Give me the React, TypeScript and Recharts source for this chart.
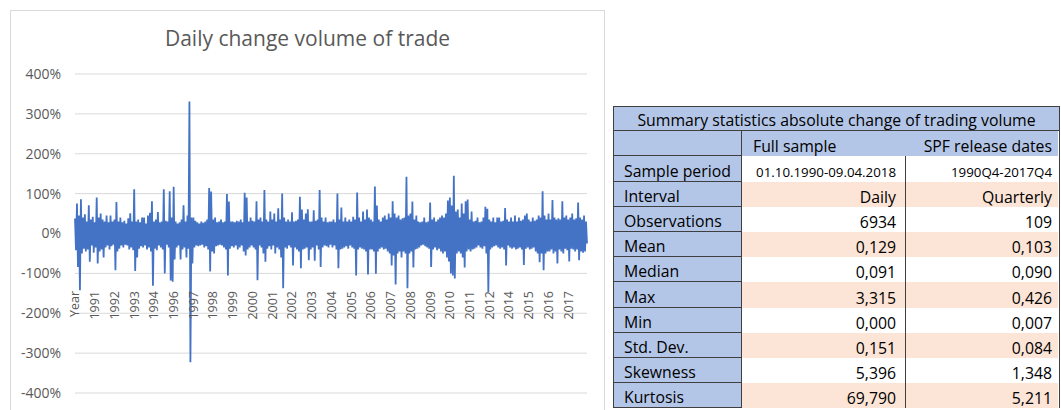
import { LineChart, Line, XAxis, YAxis, CartesianGrid } from 'recharts';

const dailyChangePct = [
  38, -42, 75, -84, 45, -142, 86, -50, 40, -38, 48, -45, 30, -40, 71, -71, 35, -30, 42, -48,
  28, -35, 90, -75, 40, -45, 50, -40, 35, -60, 30, -35, 45, -30, 28, -40, 45, -32, 30, -28,
  35, -92, 79, -45, 30, -38, 40, -30, 28, -35, 32, -28, 25, -30, 38, -40, 51, -35, 30, -42,
  111, -94, 30, -60, 35, -38, 28, -32, 40, -35, 40, -30, 25, -40, 45, -35, 52, -45, 81, -131,
  30, -38, 35, -42, 54, -30, 28, -35, 30, -40, 111, -100, 32, -28, 30, -35, 106, -118, 40, -121,
  117, -65, 30, -35, 25, -30, 28, -65, 35, -40, 71, -35, 30, -60, 45, -38, 331, -323, 40, -75,
  40, -35, 32, -30, 28, -32, 25, -30, 30, -28, 27, -35, 30, -32, 35, -40, 114, -95, 105, -45,
  35, -50, 40, -32, 28, -30, 30, -28, 35, -30, 28, -35, 30, -40, 99, -105, 80, -38, 30, -32,
  30, -35, 28, -30, 32, -40, 30, -35, 35, -30, 28, -45, 102, -55, 90, -40, 30, -35, 40, -30,
  32, -35, 30, -40, 81, -117, 35, -30, 40, -35, 30, -50, 109, -71, 35, -38, 30, -32, 55, -40,
  35, -30, 50, -50, 30, -35, 63, -40, 35, -60, 100, -137, 40, -35, 30, -38, 35, -30, 30, -35,
  53, -80, 30, -35, 32, -40, 35, -45, 92, -87, 60, -40, 35, -38, 50, -35, 61, -67, 30, -40,
  30, -35, 58, -68, 32, -30, 35, -40, 109, -84, 40, -35, 30, -30, 40, -32, 28, -35, 30, -28,
  30, -35, 35, -30, 28, -40, 100, -87, 35, -40, 65, -38, 30, -35, 40, -32, 30, -38, 35, -30,
  30, -35, 42, -38, 35, -105, 103, -40, 40, -35, 30, -38, 55, -40, 35, -45, 60, -103, 40, -40,
  35, -40, 30, -45, 118, -101, 70, -45, 35, -38, 30, -35, 40, -40, 45, -38, 35, -45, 50, -50,
  40, -80, 81, -55, 50, -128, 40, -50, 45, -45, 35, -60, 38, -45, 40, -50, 142, -137, 45, -50,
  50, -45, 80, -85, 35, -40, 45, -38, 30, -35, 28, -30, 30, -28, 40, -32, 28, -35, 30, -38,
  78, -84, 35, -40, 40, -35, 30, -42, 35, -38, 40, -45, 45, -50, 40, -45, 50, -60, 83, -70,
  90, -100, 70, -105, 145, -113, 55, -50, 60, -45, 40, -50, 75, -60, 50, -85, 81, -45, 85, -40,
  35, -45, 55, -40, 30, -38, 32, -35, 40, -30, 28, -35, 30, -38, 40, -32, 67, -50, 62, -147,
  35, -40, 30, -35, 40, -32, 28, -30, 40, -35, 40, -38, 30, -35, 32, -40, 64, -80, 35, -30,
  30, -35, 40, -38, 30, -35, 45, -40, 30, -38, 40, -35, 32, -40, 35, -79, 45, -38, 50, -35,
  35, -40, 30, -38, 40, -35, 32, -45, 35, -50, 45, -72, 40, -50, 106, -92, 45, -50, 35, -45,
  50, -45, 35, -40, 84, -50, 40, -45, 35, -75, 38, -40, 35, -45, 81, -50, 40, -38, 45, -42,
  35, -70, 40, -38, 50, -40, 35, -45, 38, -40, 78, -67, 40, -45, 35, -48, 45, -45, 30, -25,
];

const yearLabels = [
  'Year', '1991', '1992', '1993', '1994', '1996', '1997', '1998', '1999', '2000', '2001', '2002', '2003',
  '2004', '2005', '2006', '2007', '2008', '2009', '2010', '2011', '2012', '2014', '2015', '2016', '2017',
];
const pointsPerLabel = 20;
const yTicks = [-400, -300, -200, -100, 0, 100, 200, 300, 400];

const statNames = ['Sample period', 'Interval', 'Observations', 'Mean', 'Median', 'Max', 'Min', 'Std. Dev.', 'Skewness', 'Kurtosis'];
const fullSample = ['01.10.1990-09.04.2018', 'Daily', '6934', '0,129', '0,091', '3,315', '0,000', '0,151', '5,396', '69,790'];
const spfDates = ['1990Q4-2017Q4', 'Quarterly', '109', '0,103', '0,090', '0,426', '0,007', '0,084', '1,348', '5,211'];

const FONT = '"Open Sans", sans-serif';
const GREY = '#595959';
const BLUE = '#B4C6E7';
const PEACH = '#FCE4D6';
const DARK = '#3F3F3F';
const ROW_H = 25.2;

const chartData = dailyChangePct.map((v, i) => ({ i, v }));

const renderYearTick = (props: any) => {
  const { x, y, payload } = props;
  const label = yearLabels[Math.round(Number(payload.value) / pointsPerLabel)];
  if (!label) return <g />;
  const ty = y - 102;
  return (
    <text x={x} y={ty} dy="0.35em" transform={`rotate(-90, ${x}, ${ty})`} textAnchor="end"
      fill={GREY} fontSize={12.5} fontFamily={FONT}>
      {label}
    </text>
  );
};

function StatsTable() {
  const cell = (extra: React.CSSProperties): React.CSSProperties => ({
    boxSizing: 'border-box', height: ROW_H, display: 'flex', alignItems: 'flex-end',
    lineHeight: '20px', whiteSpace: 'nowrap', ...extra,
  });
  return (
    <div style={{ position: 'absolute', left: 613, top: 106, width: 446, fontFamily: FONT, fontSize: 15.8, color: '#000',
      borderRight: `1px solid ${DARK}` }}>
      <div style={cell({ background: BLUE, border: `1px solid ${DARK}`, borderRight: 'none', justifyContent: 'center' })}>
        Summary statistics absolute change of trading volume
      </div>
      <div style={{ display: 'flex' }}>
        <div style={cell({ width: 129, background: BLUE, borderLeft: `1px solid ${DARK}`, borderRight: `1px solid ${DARK}`, borderBottom: `1px solid ${DARK}` })} />
        <div style={cell({ width: 164, background: BLUE, paddingLeft: 11 })}>Full sample</div>
        <div style={cell({ width: 152, background: BLUE, justifyContent: 'flex-end', paddingRight: 6 })}>SPF release dates</div>
      </div>
      {statNames.map((name, r) => {
        const bg = r % 2 === 1 ? PEACH : '#fff';
        const small = r === 0 ? { fontSize: 13.3 } : {};
        return (
          <div key={name} style={{ display: 'flex' }}>
            <div style={cell({ width: 129, background: BLUE, borderLeft: `1px solid ${DARK}`, borderRight: `1px solid ${DARK}`, borderBottom: `1px solid ${DARK}`, paddingLeft: 10 })}>
              {name}
            </div>
            <div style={cell({ width: 164, background: bg, justifyContent: 'flex-end', paddingRight: 9, borderRight: `1px solid ${DARK}`, ...small })}>
              {fullSample[r]}
            </div>
            <div style={cell({ width: 152, background: bg, justifyContent: 'flex-end', paddingRight: 6, ...small })}>
              {spfDates[r]}
            </div>
          </div>
        );
      })}
    </div>
  );
}

export default function App() {
  return (
    <div style={{ position: 'absolute', left: 0, top: 0, width: 1061, height: 410, overflow: 'hidden', background: '#fff' }}>
      <div style={{ position: 'absolute', left: 10, top: 10, width: 595, height: 420, border: '1px solid #D9D9D9', boxSizing: 'border-box' }} />
      <div style={{ position: 'absolute', left: 10, top: 28, width: 595, textAlign: 'center', fontFamily: FONT, fontSize: 21, lineHeight: '21px', color: GREY }}>
        Daily change volume of trade
      </div>
      <div style={{ position: 'absolute', left: 0, top: 0 }}>
        <LineChart width={610} height={410} data={chartData} margin={{ top: 74, right: 23, bottom: 0, left: 0 }}>
          <CartesianGrid vertical={false} stroke="#D9D9D9" />
          <XAxis dataKey="i" type="category" interval={pointsPerLabel - 1} height={17} axisLine={false} tickLine={false}
            tickSize={0} tickMargin={0} tick={renderYearTick} />
          <YAxis domain={[-400, 400]} ticks={yTicks} width={75} axisLine={false} tickLine={false} tickSize={0} tickMargin={14}
            tickFormatter={(v: number) => `${v}%`} tick={{ fill: GREY, fontSize: 14, fontFamily: FONT }} />
          <Line type="linear" dataKey="v" stroke="#4472C4" strokeWidth={1.8} dot={false} isAnimationActive={false} />
        </LineChart>
      </div>
      <StatsTable />
    </div>
  );
}
